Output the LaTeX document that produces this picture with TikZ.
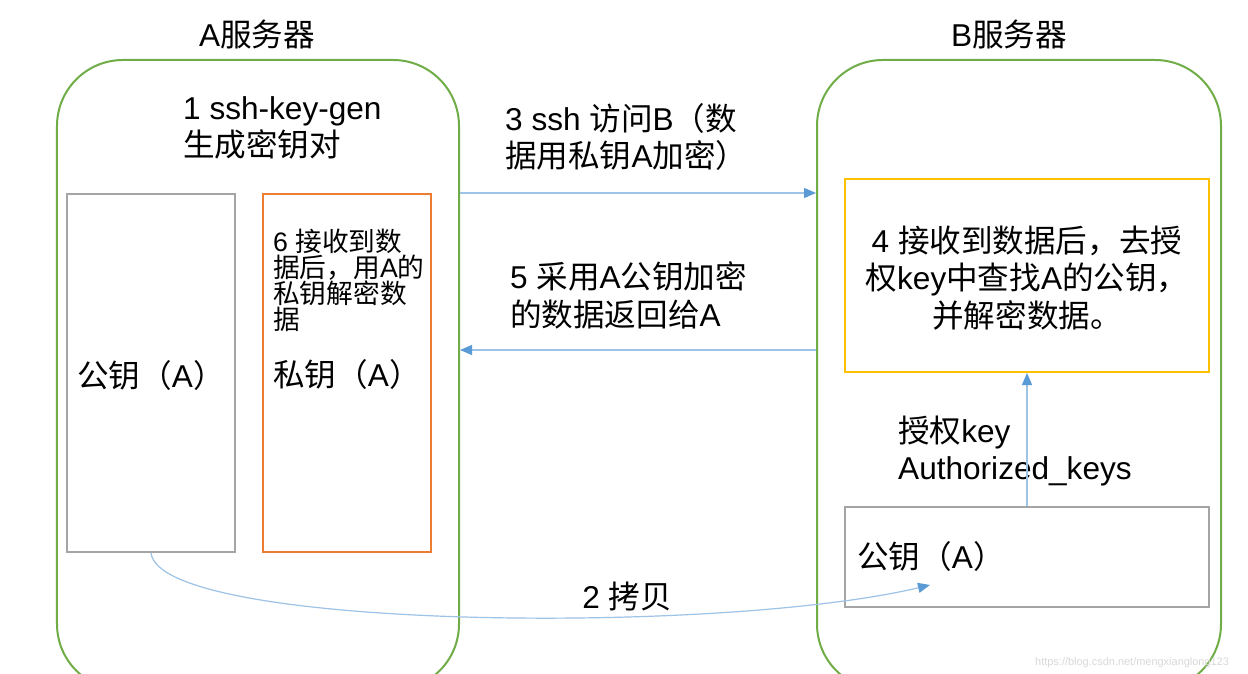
\documentclass[tikz,border=0pt]{standalone}
\usepackage{fontspec}
\setmainfont{Liberation Sans}
\newfontfamily\cjkf{Noto Sans CJK SC}
\newfontfamily\latf{Liberation Sans}
\usetikzlibrary{arrows.meta}
\XeTeXinterchartokenstate=1
\newXeTeXintercharclass\cjkcls
\newcount\mycnt
\mycnt="4E00
\loop \XeTeXcharclass\mycnt=\cjkcls \advance\mycnt by 1 \ifnum\mycnt<"A000 \repeat
\mycnt="3000
\loop \XeTeXcharclass\mycnt=\cjkcls \advance\mycnt by 1 \ifnum\mycnt<"3040 \repeat
\mycnt="FF00
\loop \XeTeXcharclass\mycnt=\cjkcls \advance\mycnt by 1 \ifnum\mycnt<"FFF0 \repeat
\XeTeXinterchartoks 0 \cjkcls = {\cjkf}
\XeTeXinterchartoks 4095 \cjkcls = {\cjkf}
\XeTeXinterchartoks \cjkcls 0 = {\latf}
\XeTeXinterchartoks \cjkcls 4095 = {\latf}
\definecolor{sgreen}{HTML}{70AD47}
\definecolor{sorange}{HTML}{ED7D31}
\definecolor{syellow}{HTML}{FFC000}
\definecolor{sgray}{HTML}{A5A5A5}
\definecolor{sblue}{HTML}{5B9BD5}
\definecolor{sline}{HTML}{9DC3E6}
\tikzset{
  server/.style={draw=sgreen, line width=2bp, rounded corners=66bp, minimum width=402bp, minimum height=630bp, inner sep=0},
  keybox/.style={draw=#1, line width=2bp, inner sep=0},
  lbl/.style={inner sep=0, font=\fontsize{31.7}{38}\selectfont, align=left, text=black},
  small/.style={inner sep=0, font=\fontsize{26.8}{25.5}\selectfont, align=left, text=black},
  arr/.style={draw=sline, line width=1.2bp, -{Triangle[length=12bp,width=10bp,color=sblue,fill=sblue]}},
}
\begin{document}
\begin{tikzpicture}[x=1bp,y=-1bp]
\useasboundingbox (0,0) rectangle (1248,674);
\fill[white] (0,0) rectangle (1248,674);
\begin{scope}
\clip (0,0) rectangle (1248,674);
\node[server] (serverA) at (258,375) {};
\node[server, minimum width=404bp] (serverB) at (1019,375) {};
\end{scope}
\node[lbl] (titleA) at (257,35) {A服务器};
\node[lbl] (titleB) at (1009,35) {B服务器};
% A side
\node[keybox=sgray, minimum width=168bp, minimum height=358bp] (pubA) at (151,373) {};
\node[keybox=sorange, minimum width=168bp, minimum height=358bp] (privA) at (347,373) {};
\node[lbl, anchor=west] (gen) at (183,128) {1 ssh-key-gen\\生成密钥对};
\node[lbl, anchor=west] (pubAtxt) at (77,375) {公钥（A）};
\node[small, anchor=north west] (step6) at (273,229) {6 接收到数\\据后，用A的\\私钥解密数\\据};
\node[lbl, anchor=west] (privAtxt) at (273,374) {私钥（A）};
% B side
\node[keybox=syellow, minimum width=364bp, minimum height=193bp] (decB) at (1027,275.5) {};
\node[lbl, align=center] (step4) at (1027,278) {4 接收到数据后，去授\\权key中查找A的公钥，\\并解密数据。};
\node[keybox=sgray, minimum width=364bp, minimum height=100bp] (pubB) at (1027,557) {};
\node[lbl, anchor=west] (pubBtxt) at (857,556) {公钥（A）};
\node[lbl, anchor=west] (authtxt) at (898,451) {授权key\\Authorized\_keys};
% middle
\node[lbl, anchor=west] (step3) at (505,137) {3 ssh 访问B（数\\据用私钥A加密）};
\node[lbl, anchor=west] (step5) at (510,295) {5 采用A公钥加密\\的数据返回给A};
\node[lbl] (step2) at (627,596) {2 拷贝};
% connectors
\draw[arr] (serverA.east |- pubA.north) -- (serverB.west |- pubA.north);
\draw[arr] (serverB.west |- 0,350) -- (serverA.east |- 0,350);
\draw[arr] (pubB.north) -- (decB.south);
\coordinate (copyend) at (930,585);
\draw[arr] (pubA.south) .. controls (160,630) and (720,635) .. (copyend);
% watermark
\node[inner sep=0, anchor=west, text=black!15, font=\fontsize{11}{13}\selectfont] (wm) at (1035,663) {https://blog.csdn.net/mengxianglong123};
\end{tikzpicture}
\end{document}
